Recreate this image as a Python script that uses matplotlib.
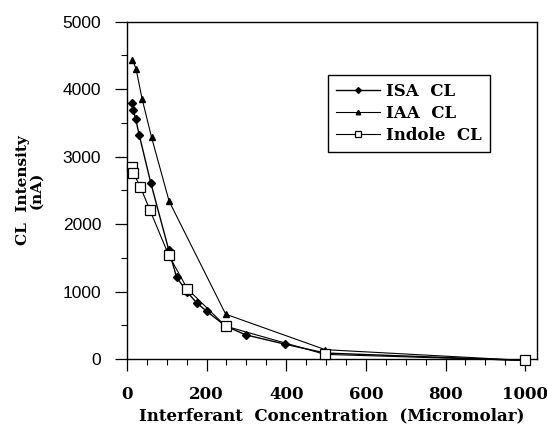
import matplotlib
matplotlib.use("Agg")
import matplotlib.pyplot as plt
from matplotlib.ticker import MultipleLocator

isa_x = [12, 16, 22, 31, 60, 105, 125, 152, 175, 200, 248, 298, 398, 498, 1000]
isa_y = [3790, 3690, 3560, 3320, 2610, 1620, 1210, 990, 835, 710, 490, 360, 220, 90, -20]
iaa_x = [14, 23, 38, 62, 106, 248, 498, 1000]
iaa_y = [4440, 4300, 3860, 3285, 2340, 666, 140, -20]
ind_x = [12, 16, 34, 58, 105, 152, 248, 498, 1000]
ind_y = [2845, 2760, 2550, 2205, 1540, 1040, 488, 70, -20]

x_ticks = [0, 200, 400, 600, 800, 1000]
y_ticks = [0, 1000, 2000, 3000, 4000, 5000]

serif = "DejaVu Serif"
sans = "Liberation Sans"

fig = plt.figure(figsize=(5.47, 4.26), dpi=100)
ax = fig.add_axes([0.232, 0.157, 0.750, 0.792])

ax.plot(isa_x, isa_y, color="black", lw=1.0, marker="D", ms=4.5, mfc="black", mec="black",
        label="ISA  CL", clip_on=False, zorder=3)
ax.plot(iaa_x, iaa_y, color="black", lw=0.8, marker="^", ms=5, mfc="black", mec="black",
        label="IAA  CL", clip_on=False, zorder=3)
ax.plot(ind_x, ind_y, color="black", lw=0.8, marker="s", ms=6.5, mfc="white", mec="black",
        mew=0.9, label="Indole  CL", clip_on=False, zorder=4)

ax.set_xlim(0, 1030)
ax.set_ylim(0, 5000)
ax.set_xticks(x_ticks)
ax.set_yticks(y_ticks)
ax.xaxis.set_minor_locator(MultipleLocator(50))
ax.yaxis.set_minor_locator(MultipleLocator(500))
ax.tick_params(which="major", direction="out", length=8.5, width=0.9, top=False, right=False)
ax.tick_params(which="minor", direction="out", length=4.3, width=0.8, top=False, right=False)
ax.tick_params(axis="y", pad=10)
ax.tick_params(axis="x", pad=11)
for lab in ax.get_xticklabels():
    lab.set_fontfamily(serif)
    lab.set_fontweight("bold")
    lab.set_fontsize(12)
for lab in ax.get_yticklabels():
    lab.set_fontfamily(sans)
    lab.set_fontsize(12.5)
for s in ax.spines.values():
    s.set_linewidth(1.0)

ax.set_xlabel("Interferant  Concentration  (Micromolar)", fontfamily=serif, fontweight="bold",
              fontsize=12, labelpad=3)
ax.set_ylabel("CL  Intensity\n(nA)", fontfamily=serif, fontweight="bold", fontsize=11,
              labelpad=14, linespacing=0.95)

leg = ax.legend(loc="upper left", bbox_to_anchor=(0.49, 0.843), borderaxespad=0,
                frameon=True, fancybox=False, edgecolor="black", framealpha=1,
                handlelength=2.6, handletextpad=0.4, markerscale=0.65,
                borderpad=0.5, labelspacing=0.3,
                prop={"family": serif, "weight": "bold", "size": 12})
leg.get_frame().set_linewidth(1.0)

fig.savefig("out.png", dpi=100)
